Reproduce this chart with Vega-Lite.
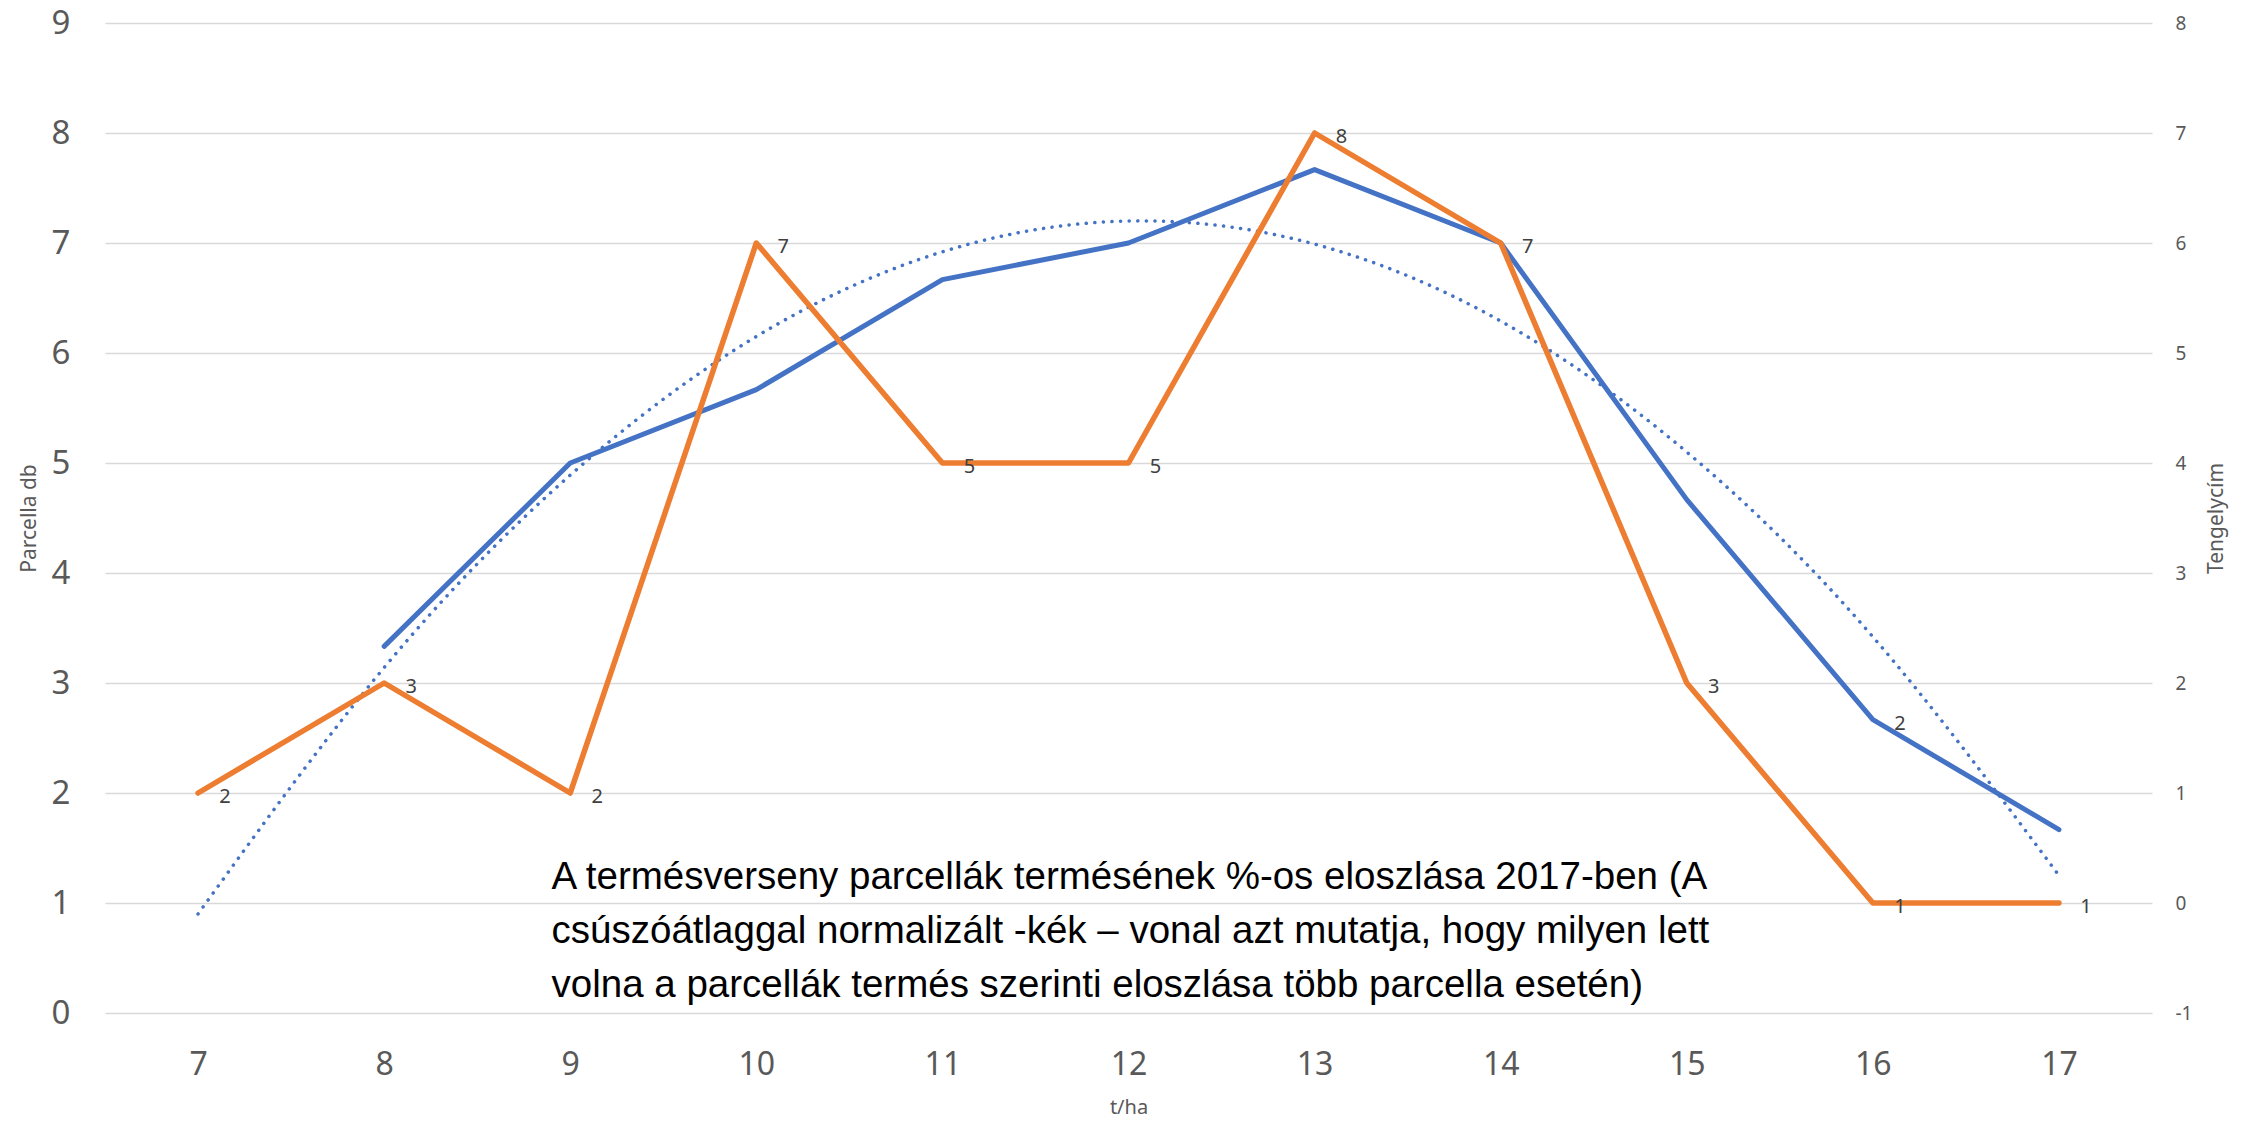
{
  "$schema": "https://vega.github.io/schema/vega-lite/v6.json",
  "width": 2047,
  "height": 990,
  "autosize": {"type": "none"},
  "padding": {"left": 105, "top": 23, "right": 105, "bottom": 110},
  "background": "white",
  "datasets": {
    "series": [
      {"x": 7, "db": 2, "atlag": null, "trend": 0.90},
      {"x": 8, "db": 3, "atlag": 3.333, "trend": 3.14},
      {"x": 9, "db": 2, "atlag": 5.0, "trend": 4.89},
      {"x": 10, "db": 7, "atlag": 5.667, "trend": 6.15},
      {"x": 11, "db": 5, "atlag": 6.667, "trend": 6.92},
      {"x": 12, "db": 5, "atlag": 7.0, "trend": 7.20},
      {"x": 13, "db": 8, "atlag": 7.667, "trend": 6.99},
      {"x": 14, "db": 7, "atlag": 7.0, "trend": 6.29},
      {"x": 15, "db": 3, "atlag": 4.667, "trend": 5.10},
      {"x": 16, "db": 1, "atlag": 2.667, "trend": 3.42},
      {"x": 17, "db": 1, "atlag": 1.667, "trend": 1.25}
    ],
    "labels": [
      {"x": 7, "y": 2, "label": "2"},
      {"x": 8, "y": 3, "label": "3"},
      {"x": 9, "y": 2, "label": "2"},
      {"x": 10, "y": 7, "label": "7"},
      {"x": 11, "y": 5, "label": "5"},
      {"x": 12, "y": 5, "label": "5"},
      {"x": 13, "y": 8, "label": "8"},
      {"x": 14, "y": 7, "label": "7"},
      {"x": 15, "y": 3, "label": "3"},
      {"x": 16, "y": 1, "label": "1"},
      {"x": 17, "y": 1, "label": "1"},
      {"x": 16, "y": 2.667, "label": "2"}
    ],
    "note": [
      {"x": 8.9, "y": 1.236, "text": "A termésverseny parcellák termésének %-os eloszlása 2017-ben (A\ncsúszóátlaggal normalizált -kék – vonal azt mutatja, hogy milyen lett\nvolna a parcellák termés szerinti eloszlása több parcella esetén)"}
    ]
  },
  "encoding": {
    "x": {
      "field": "x",
      "type": "quantitative",
      "scale": {"domain": [6.5, 17.5], "nice": false, "zero": false},
      "axis": {"values": [7, 8, 9, 10, 11, 12, 13, 14, 15, 16, 17], "title": "t/ha", "labelExpr": "'' + datum.value"}
    }
  },
  "layer": [
    {
      "layer": [
        {
          "data": {"name": "series"},
          "mark": {"type": "line", "color": "#4472C4", "strokeWidth": 3.5, "strokeDash": [0.1, 8.5], "strokeCap": "round", "interpolate": "natural"},
          "encoding": {
            "y": {"field": "trend", "type": "quantitative", "scale": {"domain": [0, 9], "nice": false}, "axis": {"values": [0, 1, 2, 3, 4, 5, 6, 7, 8, 9], "title": "Parcella db", "labelExpr": "'' + datum.value"}}
          }
        },
        {
          "data": {"name": "series"},
          "mark": {"type": "line", "color": "#4472C4", "strokeWidth": 5, "strokeCap": "round", "strokeJoin": "round"},
          "encoding": {
            "y": {"field": "atlag", "type": "quantitative", "title": "Parcella db"}
          }
        },
        {
          "data": {"name": "series"},
          "mark": {"type": "line", "color": "#ED7D31", "strokeWidth": 5.5, "strokeCap": "round", "strokeJoin": "round"},
          "encoding": {
            "y": {"field": "db", "type": "quantitative", "title": "Parcella db"}
          }
        },
        {
          "data": {"name": "labels"},
          "mark": {"type": "text", "dx": 27, "dy": 4, "fontSize": 20, "color": "#404040", "font": "Noto Sans", "align": "center", "baseline": "middle"},
          "encoding": {
            "y": {"field": "y", "type": "quantitative", "title": "Parcella db"},
            "text": {"field": "label"}
          }
        },
        {
          "data": {"name": "note"},
          "mark": {"type": "text", "fontSize": 38.5, "color": "#000000", "font": "Liberation Sans", "align": "left", "baseline": "middle", "lineBreak": "\n", "lineHeight": 54},
          "encoding": {
            "y": {"field": "y", "type": "quantitative", "title": "Parcella db"},
            "text": {"field": "text"}
          }
        }
      ]
    },
    {
      "data": {"name": "series"},
      "mark": {"type": "line", "strokeOpacity": 0},
      "encoding": {
        "y": {"field": "trend", "type": "quantitative", "scale": {"domain": [-1, 8], "nice": false}, "axis": {"orient": "right", "values": [-1, 0, 1, 2, 3, 4, 5, 6, 7, 8], "title": "Tengelycím", "grid": false, "labelExpr": "'' + datum.value"}}
      }
    }
  ],
  "resolve": {"scale": {"y": "independent"}},
  "config": {
    "view": {"stroke": null},
    "axis": {"domain": false, "ticks": false, "labelColor": "#595959", "titleColor": "#595959", "labelFont": "Noto Sans", "titleFont": "Noto Sans", "titleFontWeight": "normal"},
    "axisLeft": {"labelFontSize": 33, "labelPadding": 35, "titleFontSize": 21, "titlePadding": 12, "gridColor": "#D9D9D9", "gridWidth": 1.5},
    "axisRight": {"labelFontSize": 19, "labelPadding": 23, "titleFontSize": 21, "titlePadding": 14, "grid": false, "titleAngle": 270, "titleBaseline": "top"},
    "axisBottom": {"labelFontSize": 32, "labelPadding": 36, "titleFontSize": 20, "titlePadding": 17, "grid": false}
  }
}
